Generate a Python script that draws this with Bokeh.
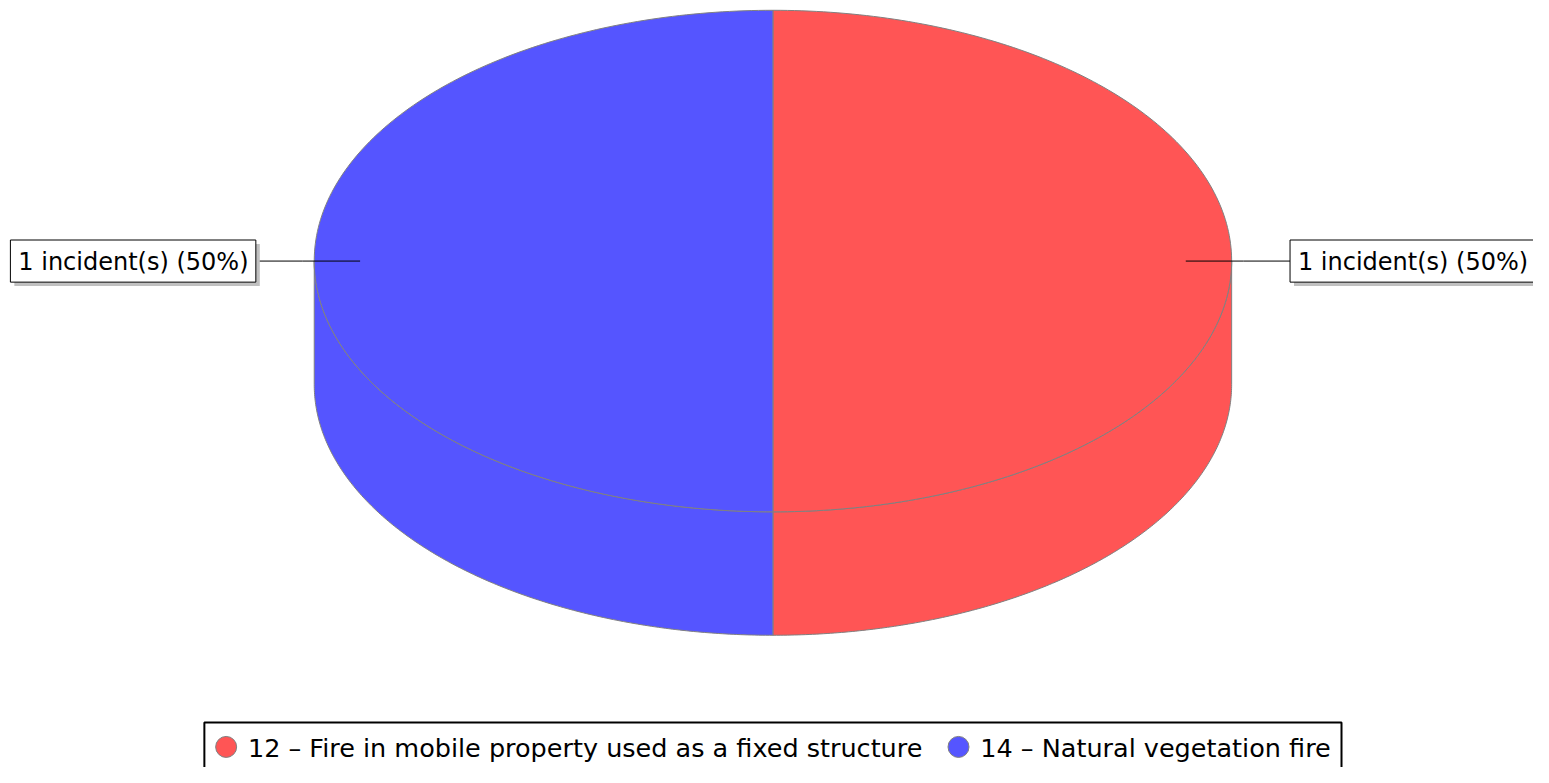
import numpy as np
from bokeh.plotting import figure
from bokeh.models import Range1d
from bokeh.embed import file_html
from bokeh.resources import INLINE
from bokeh.core.properties import value

# ---- data ----
categories = ["12 – Fire in mobile property used as a fixed structure",
              "14 – Natural vegetation fire"]
counts = [1, 1]
colors = ["#FF5555", "#5555FF"]

# ---- geometry (reference-pixel data units, y downwards) ----
W, H = 1533, 767
REF_W, REF_H = 1549, 783
CX, CY = 780.5, 266.0
RX, RY = 463.5, 256.0
DEPTH = 126.0
EDGE = "#808080"
FONT = value("DejaVu Sans")

p = figure(width=W, height=H, output_backend="svg", toolbar_location=None,
           x_range=Range1d(0, REF_W), y_range=Range1d(REF_H, 0),
           x_axis_type=None, y_axis_type=None, min_border=0,
           outline_line_color=None, background_fill_color="white")
p.grid.visible = False


def arc(a0, a1, n=200, dy=0.0):
    t = np.radians(np.linspace(a0, a1, n))
    return CX + RX * np.cos(t), CY + dy - RY * np.sin(t)


total = float(sum(counts))
slices = []
start = 90.0
for v in counts:
    span = 360.0 * v / total
    slices.append((start, start - span))
    start -= span

# side walls (front, visible part)
side_xs, side_ys, side_c = [], [], []
for (a0, a1), c in zip(slices, colors):
    lo_s, hi_s = a1, a0
    for k in range(-2, 2):
        lo = max(lo_s, 180 + 360 * k)
        hi = min(hi_s, 360 + 360 * k)
        if hi > lo:
            tx, ty = arc(lo, hi)
            bx, by = arc(hi, lo, dy=DEPTH)
            side_xs.append(list(tx) + list(bx))
            side_ys.append(list(ty) + list(by))
            side_c.append(c)
p.patches(side_xs, side_ys, fill_color=side_c, line_color=EDGE, line_width=1)

# top faces
top_xs, top_ys = [], []
for (a0, a1) in slices:
    ax, ay = arc(a0, a1)
    top_xs.append([CX] + list(ax))
    top_ys.append([CY] + list(ay))
p.patches(top_xs, top_ys, fill_color=colors, line_color=EDGE, line_width=1)

# labels
BOX_W, BOX_H = 248, 43
for (a0, a1), v in zip(slices, counts):
    m = np.radians((a0 + a1) / 2.0)
    cm, sm = np.cos(m), np.sin(m)
    side = 1 if cm >= 0 else -1
    ix, iy = CX + 0.9 * RX * cm, CY - 0.9 * RY * sm
    ox, oy = CX + (RX + 12) * cm, CY - (RY + 12) * sm
    ex = CX + side * (RX + 59)
    p.line([ix, ox, ex], [iy, oy, oy], line_color="black", line_width=1)
    left = ex if side > 0 else ex - BOX_W
    top = oy - BOX_H / 2.0
    p.quad(left=left + 4, right=left + BOX_W + 4, top=top + 4, bottom=top + BOX_H + 4,
           fill_color="#C0C0C0", line_color=None)
    p.quad(left=left, right=left + BOX_W, top=top, bottom=top + BOX_H,
           fill_color="white", line_color="black", line_width=1)
    pct = 100.0 * v / total
    p.text(x=[left + 8], y=[oy + 1], text=[f"{v} incident(s) ({pct:.0f}%)"],
           text_font=FONT, text_font_size="24px", text_color="black",
           text_align="left", text_baseline="middle")

# legend
LEG_L, LEG_R, LEG_T = 206, 1355, 737
p.quad(left=LEG_L, right=LEG_R, top=LEG_T, bottom=LEG_T + 60,
       fill_color="white", line_color="black", line_width=2)
leg_x = [LEG_L + 22, LEG_L + 762]
leg_y = LEG_T + 25
p.scatter(x=leg_x, y=[leg_y] * 2, size=21, marker="circle",
          fill_color=colors, line_color=EDGE, line_width=1)
p.text(x=[xx + 22 for xx in leg_x], y=[leg_y + 1] * 2, text=categories,
       text_font=FONT, text_font_size="25.5px", text_color="black",
       text_align="left", text_baseline="middle")

open("out.html", "w").write(file_html(p, INLINE))
